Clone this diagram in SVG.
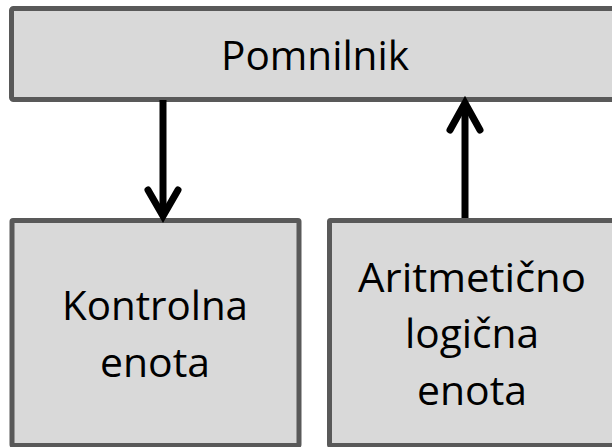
<svg xmlns="http://www.w3.org/2000/svg" width="612" height="447" viewBox="0 0 612 447">
<style>
.box{fill:#d9d9d9;stroke:#595959;stroke-width:5}
.t{font-family:"Open Sans","Noto Sans","Liberation Sans",sans-serif;font-size:40px;fill:#000;text-anchor:middle}
.c{fill:none;stroke:#000;stroke-width:7;stroke-linecap:round;stroke-linejoin:miter}
.s{fill:none;stroke:#000;stroke-width:7}
</style>
<rect width="612" height="447" fill="#fff"/>
<g id="pomnilnik">
<rect class="box" x="11.5" y="8.5" width="610" height="91" rx="2"/>
<text class="t" x="315" y="70" textLength="188" lengthAdjust="spacingAndGlyphs">Pomnilnik</text>
</g>
<g id="kontrolna">
<rect class="box" x="12" y="220.5" width="287" height="225" rx="1"/>
<text class="t" x="155" y="320" textLength="186" lengthAdjust="spacingAndGlyphs">Kontrolna</text>
<text class="t" x="155" y="377" textLength="110" lengthAdjust="spacingAndGlyphs">enota</text>
</g>
<g id="alu">
<rect class="box" x="329.5" y="220.5" width="290" height="225" rx="1"/>
<text class="t" x="472" y="292" textLength="228" lengthAdjust="spacingAndGlyphs">Aritmetično</text>
<text class="t" x="472" y="348" textLength="134" lengthAdjust="spacingAndGlyphs">logična</text>
<text class="t" x="472" y="405" textLength="110" lengthAdjust="spacingAndGlyphs">enota</text>
</g>
<g id="connectors">
<line class="s" x1="163" y1="100" x2="163" y2="216"/>
<polyline class="c" points="148,190 163,216 178,190"/>
<line class="s" x1="465" y1="103" x2="465" y2="218"/>
<polyline class="c" points="450,130 465,103 480,130"/>
</g>
</svg>
